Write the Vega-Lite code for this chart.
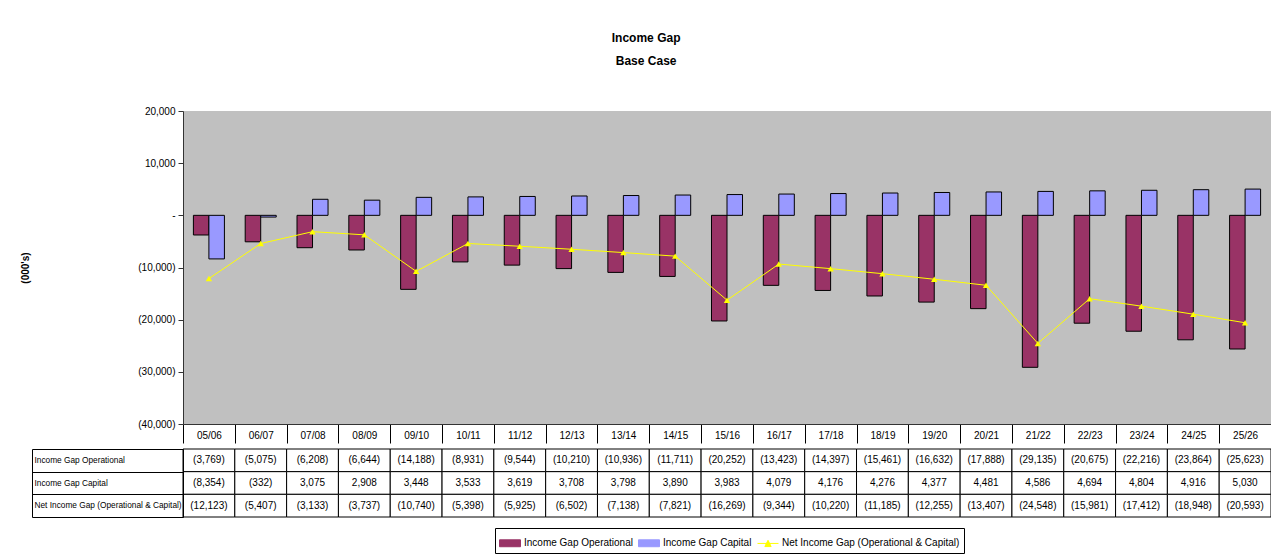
{
  "$schema": "https://vega.github.io/schema/vega-lite/v6.json",
  "padding": {"left": 20, "top": 32, "right": 0, "bottom": 0},
  "background": "white",
  "title": {
    "text": ["Income Gap", "Base Case"],
    "font": "Liberation Sans",
    "fontSize": 12,
    "fontWeight": "bold",
    "color": "#000000",
    "lineHeight": 23,
    "anchor": "middle",
    "frame": "bounds",
    "offset": 38
  },
  "config": {
    "font": "Liberation Sans",
    "axis": {"grid": false, "labelColor": "#000000", "titleColor": "#000000"}
  },
  "data": {
    "values": [
      {"year": "05/06", "series": "Income Gap Operational", "value": -3769},
      {"year": "05/06", "series": "Income Gap Capital", "value": -8354},
      {"year": "05/06", "series": "Net Income Gap (Operational & Capital)", "value": -12123},
      {"year": "06/07", "series": "Income Gap Operational", "value": -5075},
      {"year": "06/07", "series": "Income Gap Capital", "value": -332},
      {"year": "06/07", "series": "Net Income Gap (Operational & Capital)", "value": -5407},
      {"year": "07/08", "series": "Income Gap Operational", "value": -6208},
      {"year": "07/08", "series": "Income Gap Capital", "value": 3075},
      {"year": "07/08", "series": "Net Income Gap (Operational & Capital)", "value": -3133},
      {"year": "08/09", "series": "Income Gap Operational", "value": -6644},
      {"year": "08/09", "series": "Income Gap Capital", "value": 2908},
      {"year": "08/09", "series": "Net Income Gap (Operational & Capital)", "value": -3737},
      {"year": "09/10", "series": "Income Gap Operational", "value": -14188},
      {"year": "09/10", "series": "Income Gap Capital", "value": 3448},
      {"year": "09/10", "series": "Net Income Gap (Operational & Capital)", "value": -10740},
      {"year": "10/11", "series": "Income Gap Operational", "value": -8931},
      {"year": "10/11", "series": "Income Gap Capital", "value": 3533},
      {"year": "10/11", "series": "Net Income Gap (Operational & Capital)", "value": -5398},
      {"year": "11/12", "series": "Income Gap Operational", "value": -9544},
      {"year": "11/12", "series": "Income Gap Capital", "value": 3619},
      {"year": "11/12", "series": "Net Income Gap (Operational & Capital)", "value": -5925},
      {"year": "12/13", "series": "Income Gap Operational", "value": -10210},
      {"year": "12/13", "series": "Income Gap Capital", "value": 3708},
      {"year": "12/13", "series": "Net Income Gap (Operational & Capital)", "value": -6502},
      {"year": "13/14", "series": "Income Gap Operational", "value": -10936},
      {"year": "13/14", "series": "Income Gap Capital", "value": 3798},
      {"year": "13/14", "series": "Net Income Gap (Operational & Capital)", "value": -7138},
      {"year": "14/15", "series": "Income Gap Operational", "value": -11711},
      {"year": "14/15", "series": "Income Gap Capital", "value": 3890},
      {"year": "14/15", "series": "Net Income Gap (Operational & Capital)", "value": -7821},
      {"year": "15/16", "series": "Income Gap Operational", "value": -20252},
      {"year": "15/16", "series": "Income Gap Capital", "value": 3983},
      {"year": "15/16", "series": "Net Income Gap (Operational & Capital)", "value": -16269},
      {"year": "16/17", "series": "Income Gap Operational", "value": -13423},
      {"year": "16/17", "series": "Income Gap Capital", "value": 4079},
      {"year": "16/17", "series": "Net Income Gap (Operational & Capital)", "value": -9344},
      {"year": "17/18", "series": "Income Gap Operational", "value": -14397},
      {"year": "17/18", "series": "Income Gap Capital", "value": 4176},
      {"year": "17/18", "series": "Net Income Gap (Operational & Capital)", "value": -10220},
      {"year": "18/19", "series": "Income Gap Operational", "value": -15461},
      {"year": "18/19", "series": "Income Gap Capital", "value": 4276},
      {"year": "18/19", "series": "Net Income Gap (Operational & Capital)", "value": -11185},
      {"year": "19/20", "series": "Income Gap Operational", "value": -16632},
      {"year": "19/20", "series": "Income Gap Capital", "value": 4377},
      {"year": "19/20", "series": "Net Income Gap (Operational & Capital)", "value": -12255},
      {"year": "20/21", "series": "Income Gap Operational", "value": -17888},
      {"year": "20/21", "series": "Income Gap Capital", "value": 4481},
      {"year": "20/21", "series": "Net Income Gap (Operational & Capital)", "value": -13407},
      {"year": "21/22", "series": "Income Gap Operational", "value": -29135},
      {"year": "21/22", "series": "Income Gap Capital", "value": 4586},
      {"year": "21/22", "series": "Net Income Gap (Operational & Capital)", "value": -24548},
      {"year": "22/23", "series": "Income Gap Operational", "value": -20675},
      {"year": "22/23", "series": "Income Gap Capital", "value": 4694},
      {"year": "22/23", "series": "Net Income Gap (Operational & Capital)", "value": -15981},
      {"year": "23/24", "series": "Income Gap Operational", "value": -22216},
      {"year": "23/24", "series": "Income Gap Capital", "value": 4804},
      {"year": "23/24", "series": "Net Income Gap (Operational & Capital)", "value": -17412},
      {"year": "24/25", "series": "Income Gap Operational", "value": -23864},
      {"year": "24/25", "series": "Income Gap Capital", "value": 4916},
      {"year": "24/25", "series": "Net Income Gap (Operational & Capital)", "value": -18948},
      {"year": "25/26", "series": "Income Gap Operational", "value": -25623},
      {"year": "25/26", "series": "Income Gap Capital", "value": 5030},
      {"year": "25/26", "series": "Net Income Gap (Operational & Capital)", "value": -20593}
    ]
  },
  "spacing": 0,
  "vconcat": [
    {
      "width": 1088,
      "height": 313,
      "view": {"fill": "#C0C0C0", "stroke": null},
      "encoding": {
        "x": {
          "field": "year",
          "type": "nominal",
          "scale": {"paddingInner": 0, "paddingOuter": 0},
          "axis": {
            "title": null,
            "labelAngle": 0,
            "labelFont": "Liberation Sans Narrow, Liberation Sans",
            "labelFontSize": 10,
            "labelPadding": -13,
            "tickSize": 19,
            "tickBand": "extent",
            "tickColor": "#000000",
            "domainColor": "#333333"
          }
        }
      },
      "layer": [
        {
          "transform": [{"filter": "datum.series !== 'Net Income Gap (Operational & Capital)'"}],
          "mark": {"type": "bar", "stroke": "#000000", "strokeWidth": 1},
          "encoding": {
            "xOffset": {
              "field": "series",
              "type": "nominal",
              "sort": ["Income Gap Operational", "Income Gap Capital"],
              "scale": {"paddingInner": 0, "paddingOuter": 0.67}
            },
            "y": {
              "field": "value",
              "type": "quantitative",
              "scale": {"domain": [-40000, 20000], "nice": false},
              "axis": {
                "title": "(000's)",
                "titleFont": "Liberation Sans",
                "titleFontSize": 10,
                "titleFontWeight": "bold",
                "titlePadding": 107,
                "values": [-40000, -30000, -20000, -10000, 0, 10000, 20000],
                "labelExpr": "datum.value === 0 ? '-' : format(datum.value, '(,')",
                "labelFontSize": 10,
                "labelPadding": 3,
                "tickSize": 5,
                "tickColor": "#333333",
                "domainColor": "#333333"
              }
            },
            "color": {
              "field": "series",
              "type": "nominal",
              "scale": {
                "domain": ["Income Gap Operational", "Income Gap Capital", "Net Income Gap (Operational & Capital)"],
                "range": ["#993366", "#9999FF", "#FFFF00"]
              },
              "legend": {
                "title": null,
                "orient": "none",
                "legendX": 312,
                "legendY": 417,
                "direction": "horizontal",
                "strokeColor": "#000000",
                "fillColor": "#FFFFFF",
                "padding": 4,
                "labelFont": "Liberation Sans",
                "labelFontSize": 10,
                "labelColor": "#000000",
                "labelLimit": 400,
                "labelOffset": 3,
                "columnPadding": 3,
                "symbolSize": 441,
                "symbolStrokeWidth": 1,
                "symbolOpacity": 1,
                "symbolType": {"expr": "datum.value === 'Net Income Gap (Operational & Capital)' ? 'M-1,0H1M-0.3,0.3L0,-0.3L0.3,0.3Z' : 'M-1,-0.33H1V0.33H-1Z'"},
                "symbolStrokeColor": {"expr": "datum.value === 'Net Income Gap (Operational & Capital)' ? '#FFFF00' : '#000000'"}
              }
            }
          }
        },
        {
          "mark": {"type": "rule", "color": "#000000", "strokeWidth": 1},
          "encoding": {"y": {"datum": 0, "type": "quantitative"}}
        },
        {
          "transform": [{"filter": "datum.series === 'Net Income Gap (Operational & Capital)'"}],
          "mark": {
            "type": "line",
            "strokeWidth": 1,
            "point": {"shape": "triangle-up", "filled": true, "size": 40, "opacity": 1}
          },
          "encoding": {
            "y": {"field": "value", "type": "quantitative"},
            "color": {
              "field": "series",
              "type": "nominal",
              "legend": {
                "title": null,
                "orient": "none",
                "legendX": 312,
                "legendY": 417,
                "direction": "horizontal",
                "strokeColor": "#000000",
                "fillColor": "#FFFFFF",
                "padding": 4,
                "labelFont": "Liberation Sans",
                "labelFontSize": 10,
                "labelColor": "#000000",
                "labelLimit": 400,
                "labelOffset": 3,
                "columnPadding": 3,
                "symbolSize": 441,
                "symbolStrokeWidth": 1,
                "symbolOpacity": 1,
                "symbolType": {"expr": "datum.value === 'Net Income Gap (Operational & Capital)' ? 'M-1,0H1M-0.3,0.3L0,-0.3L0.3,0.3Z' : 'M-1,-0.33H1V0.33H-1Z'"},
                "symbolStrokeColor": {"expr": "datum.value === 'Net Income Gap (Operational & Capital)' ? '#FFFF00' : '#000000'"}
              }
            }
          }
        }
      ]
    },
    {
      "width": 1088,
      "height": 68,
      "view": {"fill": "#FFFFFF", "stroke": null},
      "encoding": {
        "x": {
          "field": "year",
          "type": "nominal",
          "scale": {"paddingInner": 0, "paddingOuter": 0},
          "axis": null
        }
      },
      "layer": [
        {
          "mark": {"type": "rect", "fill": "#FFFFFF", "stroke": "#000000", "strokeWidth": 1},
          "encoding": {
            "y": {
              "field": "series",
              "type": "nominal",
              "sort": ["Income Gap Operational", "Income Gap Capital", "Net Income Gap (Operational & Capital)"],
              "scale": {"paddingInner": 0, "paddingOuter": 0},
              "axis": {
                "title": null,
                "orient": "left",
                "labelAlign": "left",
                "labelPadding": -2,
                "labelFont": "Liberation Sans Narrow, Liberation Sans",
                "labelFontSize": 8.3,
                "tickSize": 151,
                "tickBand": "extent",
                "tickColor": "#000000",
                "domainColor": "#000000"
              }
            }
          }
        },
        {
          "mark": {"type": "text", "font": "Liberation Sans Narrow, Liberation Sans", "fontSize": 10, "color": "#000000"},
          "encoding": {
            "y": {
              "field": "series",
              "type": "nominal",
              "sort": ["Income Gap Operational", "Income Gap Capital", "Net Income Gap (Operational & Capital)"],
              "axis": {
                "title": null,
                "orient": "left",
                "offset": 151,
                "labels": false,
                "ticks": false,
                "domain": true,
                "domainColor": "#000000"
              }
            },
            "text": {"field": "value", "type": "quantitative", "format": "(,"}
          }
        }
      ],
      "resolve": {"axis": {"y": "independent"}}
    }
  ]
}
